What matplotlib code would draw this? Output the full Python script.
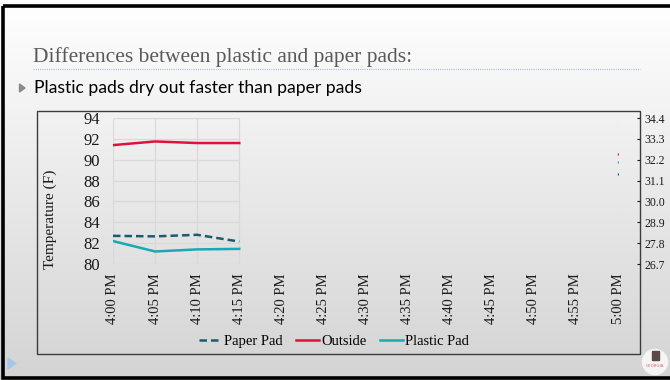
import numpy as np
import matplotlib
matplotlib.use("Agg")
import matplotlib.pyplot as plt
from matplotlib.patches import Rectangle, Polygon, Circle
from matplotlib.lines import Line2D

# ---- data ----
times = ["4:00 PM", "4:05 PM", "4:10 PM", "4:15 PM", "4:20 PM", "4:25 PM", "4:30 PM",
         "4:35 PM", "4:40 PM", "4:45 PM", "4:50 PM", "4:55 PM", "5:00 PM"]
paper_pad = [82.7, 82.65, 82.8, 82.15]
outside = [91.4, 91.75, 91.6, 91.6]
plastic_pad = [82.2, 81.2, 81.4, 81.45]
# secondary (Celsius) single points at 5:00 PM
c_outside_5 = 32.55
c_plastic_5 = 32.1
c_paper_5 = 31.45
yticks_f = [80, 82, 84, 86, 88, 90, 92, 94]

title = "Differences between plastic and paper pads:"
bullet = "Plastic pads dry out faster than paper pads"

RED = "#E2113A"
TEAL = "#1AA9B3"
DARK = "#1D5A6C"
SERIF = "Liberation Serif"

W, H = 670, 380
fig = plt.figure(figsize=(W / 100, H / 100), dpi=100)

# background in pixel coords
bg = fig.add_axes([0, 0, 1, 1], zorder=-10)
grad = np.linspace(1.0, 0.0, 256)[:, None]
top = np.array([1.0, 1.0, 1.0])
bot = np.array([0.83, 0.83, 0.83])
img = bot[None, None, :] * (1 - grad[:, :, None]) + top[None, None, :] * grad[:, :, None]
img = np.repeat(img, 2, axis=1)
bg.imshow(img, extent=[0, W, H, 0], aspect="auto", interpolation="bilinear")
bg.set_xlim(0, W)
bg.set_ylim(H, 0)
bg.axis("off")

# slide border (right edge lies outside the picture)
bg.add_patch(Rectangle((2.5, 5.5), W + 10, H - 8, fill=False, edgecolor="black", lw=2.6))
# title + dotted line
bg.text(33, 62, title, fontsize=15.5, family=SERIF, color="#595959", va="baseline", ha="left")
bg.plot([33, 640], [68.5, 68.5], ls=(0, (1, 1)), color="#9fbfdc", lw=0.8)
# bullet
bg.add_patch(Polygon([[19.5, 84], [19.5, 92], [25, 88]], closed=True, color="#8a8a8a"))
bg.text(34, 88, bullet, fontsize=12.6, family="Lato", color="black", va="center", ha="left")
# chart box
bg.add_patch(Rectangle((37, 111), 603, 243, fill=False, edgecolor="#3c3c3c", lw=1.0))
# nav triangle
bg.add_patch(Polygon([[8, 358], [8, 369], [16, 363.5]], closed=True, color="#a6c6e6"))
# logo
bg.add_patch(Circle((655, 362), 12.5, color="#f5f5f5"))
bg.add_patch(Rectangle((651.5, 351), 7, 9, color="#5a4a4a"))
bg.text(655, 366, "GEORGIA", fontsize=2.8, color="#d06078", ha="center", va="center", family="DejaVu Sans")

# main axes
x0, x1 = 113, 618
yb, yt = 264, 118
ax = fig.add_axes([x0 / W, 1 - yb / H, (x1 - x0) / W, (yb - yt) / H])
ax.set_facecolor("none")
ax.set_xlim(0, len(times) - 1)
ax.set_ylim(80, 94)
for s in ax.spines.values():
    s.set_visible(False)

xs = np.arange(len(times))
n = len(outside)
# gridlines only over the populated part
ax.hlines(yticks_f, 0, n - 1, color="#d9d9d9", lw=0.9, zorder=0)
ax.vlines(xs[:n], 80, 94, color="#d9d9d9", lw=0.9, zorder=0)
ax.vlines(xs[-1], 80, 94, color="#dddddd", lw=0.8, zorder=0)

ax.plot(xs[:n], paper_pad, color=DARK, lw=1.8, ls=(0, (3, 1.6)), label="Paper Pad")
ax.plot(xs[:n], outside, color=RED, lw=1.8, label="Outside")
ax.plot(xs[:n], plastic_pad, color=TEAL, lw=1.8, label="Plastic Pad")

ax.set_xticks(xs)
ax.set_xticklabels(times, rotation=90, family=SERIF, fontsize=10.5)
ax.set_yticks(yticks_f)
ax.set_yticklabels([str(v) for v in yticks_f], family=SERIF, fontsize=12)
ax.tick_params(axis="x", length=0, pad=7, colors="#1a1a1a")
ax.tick_params(axis="y", length=0, pad=9, colors="#1a1a1a")
ax.set_ylabel("Temperature (F)", family=SERIF, fontsize=11, color="#1a1a1a")
ax.yaxis.set_label_coords((57 - x0) / (x1 - x0), (yb - 219) / (yb - yt))

# secondary Celsius axis
def f2c(f):
    return (f - 32) * 5 / 9

ax2 = ax.twinx()
ax2.set_ylim(f2c(80), f2c(94))
for s in ax2.spines.values():
    s.set_visible(False)
ax2.spines["right"].set_position(("axes", (640 - x0) / (x1 - x0)))
ax2.set_yticks([f2c(v) for v in yticks_f])
ax2.set_yticklabels(["%.1f" % f2c(v) for v in yticks_f], family=SERIF, fontsize=8.5)
ax2.tick_params(axis="y", direction="in", length=2.5, pad=3, colors="#1a1a1a", width=0.8)
ax2.plot([xs[-1]], [c_outside_5], marker="|", ms=2, color=RED, ls="none")
ax2.plot([xs[-1]], [c_plastic_5], marker="|", ms=2, color=TEAL, ls="none")
ax2.plot([xs[-1]], [c_paper_5], marker="|", ms=2, color=DARK, ls="none")

handles = [Line2D([], [], color=DARK, lw=1.8, ls=(0, (3, 1.6))),
           Line2D([], [], color=RED, lw=1.8),
           Line2D([], [], color=TEAL, lw=1.8)]
fig.legend(handles, ["Paper Pad", "Outside", "Plastic Pad"], loc="center",
           bbox_to_anchor=(334 / W, 1 - 341 / H), ncol=3, frameon=False,
           handlelength=1.6, handletextpad=0.15, columnspacing=0.9,
           prop={"family": SERIF, "size": 10.5})

fig.savefig("out.png", dpi=100)
